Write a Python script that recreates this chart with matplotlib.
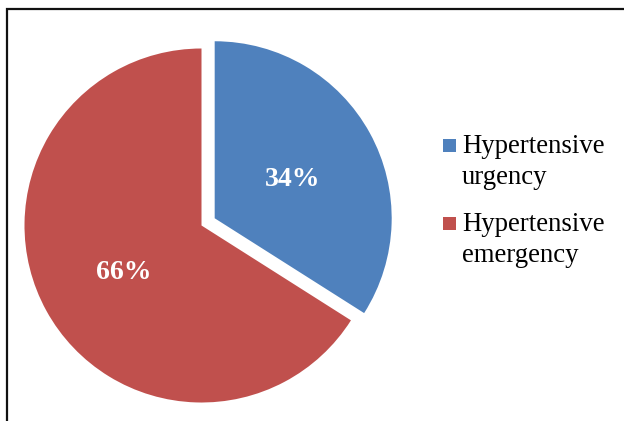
import matplotlib
matplotlib.use("Agg")
import matplotlib.pyplot as plt
from matplotlib.patches import Rectangle
from matplotlib.lines import Line2D

categories = ["Hypertensive\nurgency", "Hypertensive\nemergency"]
shares = [34, 66]
colors = ["#4F81BD", "#C0504D"]
explode = [0.085, 0.0]

W, H, DPI = 624, 421, 100
fig = plt.figure(figsize=(W / DPI, H / DPI), dpi=DPI)
fig.patch.set_facecolor("white")

# pie axes spanning the whole figure, 177 px per data unit on both axes
R = 177.0
cx, cy = 201.5, H - 225.5
ax = fig.add_axes([0, 0, 1, 1])
wedges, _, autotexts = ax.pie(
    shares, colors=colors, explode=explode, startangle=90, counterclock=False,
    autopct="%1.0f%%", pctdistance=0.5, radius=1.0,
    wedgeprops=dict(linewidth=0),
    textprops=dict(color="white", fontsize=20, fontweight="bold",
                   family="Liberation Serif"))
# nudge the percentage labels slightly downward
for t in autotexts:
    x, y = t.get_position()
    t.set_position((x, y - 4 / R))
ax.set_aspect("auto")
ax.set_xlim(-cx / R, (W - cx) / R)
ax.set_ylim(-cy / R, (H - cy) / R)
ax.axis("off")

# legend: colour square beside the first line of each two-line label
leg_x_box, leg_x_text = 442.5, 462
leg_top = [138.5, 216.5]   # square tops, px from top
box = 13
line_pitch = 31.0
for label, color, top in zip(categories, colors, leg_top):
    fig.add_artist(Rectangle((leg_x_box / W, 1 - (top + box) / H),
                             box / W, box / H, transform=fig.transFigure,
                             facecolor=color, edgecolor="none"))
    # baseline anchor sits on the last line of the label
    fig.text(leg_x_text / W, 1 - (top + 14.5 + line_pitch) / H, label,
             family="Liberation Serif", fontsize=19.3, va="baseline",
             ha="left", linespacing=1.33, color="black")

# outer frame (top and left edges)
fig.add_artist(Line2D([7 / W, 7 / W, 1.01], [-0.01, 1 - 9 / H, 1 - 9 / H],
                      transform=fig.transFigure, color="#111111", lw=1.6,
                      solid_joinstyle="miter"))

fig.savefig("out.png", dpi=DPI)
